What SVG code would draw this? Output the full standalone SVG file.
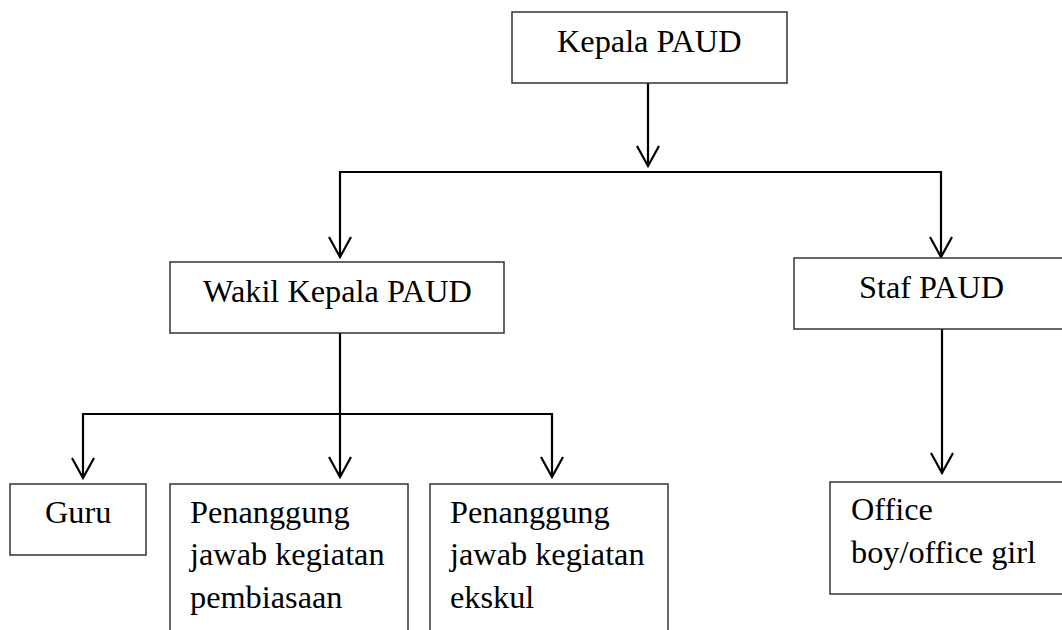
<svg xmlns="http://www.w3.org/2000/svg" width="1062" height="630" viewBox="0 0 1062 630">
<style>
.box{fill:#fff;stroke:#333;stroke-width:1.5}
.t{font-family:"Liberation Serif","Times New Roman",serif;font-size:32.3px;fill:#000}
.ln{fill:none;stroke:#000;stroke-width:2.2}
</style>
<defs>
<marker id="ah" markerUnits="userSpaceOnUse" markerWidth="30" markerHeight="30" viewBox="-15 -25 30 30" refX="0" refY="0" orient="auto" overflow="visible">
<path d="M-20,-11 L0,0 L-20,11" fill="none" stroke="#000" stroke-width="2.2"/>
</marker>
</defs>
<rect width="1062" height="630" fill="#fff"/>
<g id="connectors">
<line class="ln" x1="648" y1="83" x2="648" y2="166" marker-end="url(#ah)"/>
<line class="ln" x1="340" y1="172" x2="941" y2="172"/>
<line class="ln" x1="340" y1="171" x2="340" y2="257" marker-end="url(#ah)"/>
<line class="ln" x1="941" y1="171" x2="941" y2="257" marker-end="url(#ah)"/>
<line class="ln" x1="340" y1="333" x2="340" y2="477" marker-end="url(#ah)"/>
<line class="ln" x1="83" y1="414" x2="552" y2="414"/>
<line class="ln" x1="83" y1="413" x2="83" y2="478" marker-end="url(#ah)"/>
<line class="ln" x1="552" y1="413" x2="552" y2="477" marker-end="url(#ah)"/>
<line class="ln" x1="942" y1="329" x2="942" y2="473" marker-end="url(#ah)"/>
</g>
<g id="kepala">
<rect class="box" x="512" y="12" width="275" height="71"/>
<text class="t" x="557" y="52">Kepala PAUD</text>
</g>
<g id="wakil">
<rect class="box" x="170" y="262" width="334" height="71"/>
<text class="t" x="203" y="302">Wakil Kepala PAUD</text>
</g>
<g id="staf">
<rect class="box" x="794" y="258" width="280" height="71"/>
<text class="t" x="859" y="298">Staf PAUD</text>
</g>
<g id="guru">
<rect class="box" x="10" y="484" width="136" height="71"/>
<text class="t" x="45" y="523">Guru</text>
</g>
<g id="pj-pembiasaan">
<rect class="box" x="170" y="484" width="238" height="160"/>
<text class="t" x="190" y="523">Penanggung</text>
<text class="t" x="190" y="565">jawab kegiatan</text>
<text class="t" x="190" y="608">pembiasaan</text>
</g>
<g id="pj-ekskul">
<rect class="box" x="430" y="484" width="238" height="160"/>
<text class="t" x="450" y="523">Penanggung</text>
<text class="t" x="450" y="565">jawab kegiatan</text>
<text class="t" x="450" y="608">ekskul</text>
</g>
<g id="office">
<rect class="box" x="830" y="482" width="250" height="112"/>
<text class="t" x="851" y="520">Office</text>
<text class="t" x="851" y="563">boy/office girl</text>
</g>
</svg>
